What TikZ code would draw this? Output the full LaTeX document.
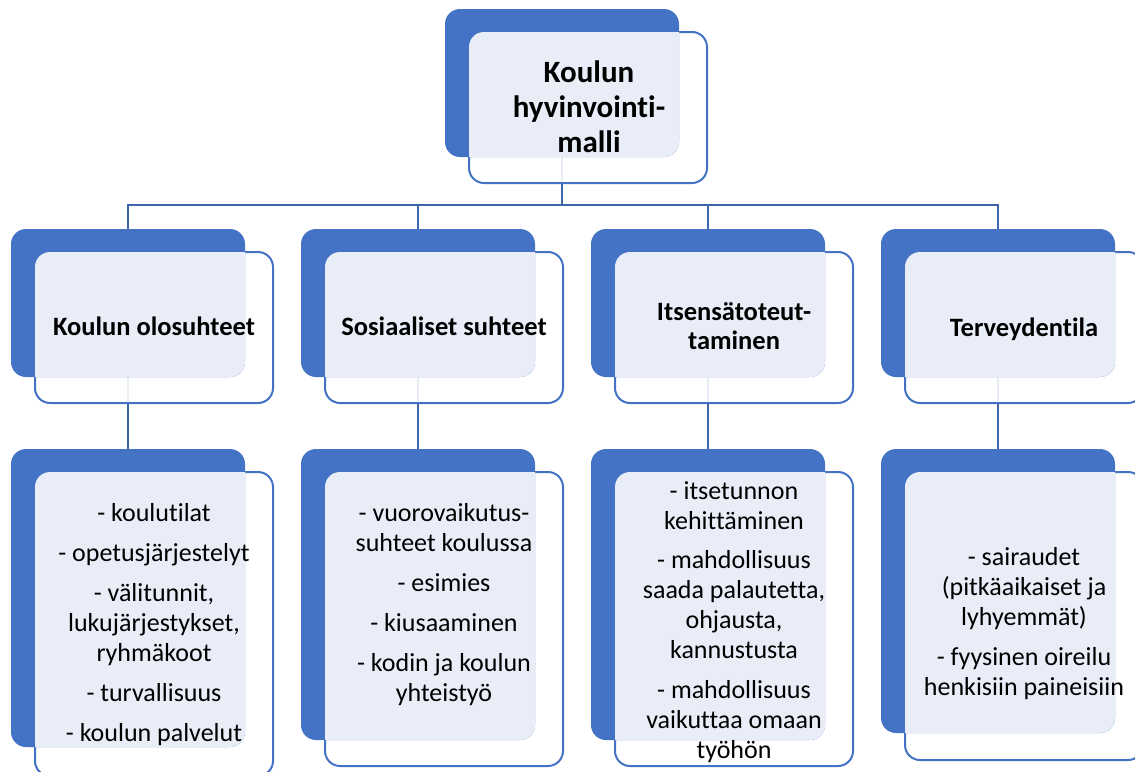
\documentclass[tikz,border=0pt]{standalone}
\usepackage{fontspec}
\setmainfont{Carlito}[Ligatures=NoCommon]
\definecolor{accent}{HTML}{4472C4}
\definecolor{tint}{HTML}{E9EDF7}
\definecolor{linkblue}{HTML}{3D66AD}
\pgfdeclarelayer{background}
\pgfsetlayers{background,main}
\tikzset{
  backbox/.style={fill=accent, rounded corners=15pt, inner sep=0pt, outer sep=0pt,
    anchor=north west, minimum width=234pt},
  frontbox/.style={draw=accent, line width=2pt, fill=white, fill opacity=0.88,
    rounded corners=15pt, inner sep=0pt, outer sep=0pt, anchor=north west,
    minimum width=238pt},
  conn/.style={draw=linkblue, line width=2.5pt},
  title/.style={font=\bfseries\fontsize{31}{35}\selectfont, align=center, inner sep=0pt},
  head/.style={font=\bfseries\fontsize{26.5}{29}\selectfont, align=center, inner sep=0pt},
  item/.style={font=\fontsize{26}{30}\selectfont, align=center, inner sep=0pt, anchor=north},
}
% a filled back card, an outlined front card shifted down-right,
% and the tinted area where the two overlap
% #1 name, #2 x, #3 y (top left of back card), #4 back height, #5 front height
\newcommand\pairbox[5]{%
  \node[frontbox, minimum height=#5pt] (#1f) at (#2+24,#3+23) {};
  \node[backbox, minimum height=#4pt] (#1b) at (#2,#3) {};
  \begin{scope}
    \clip[rounded corners=15pt] (#1b.south west) rectangle (#1b.north east);
    \fill[tint, rounded corners=15pt] (#1f.south west) rectangle (#1f.north east);
  \end{scope}}
\begin{document}
\begin{tikzpicture}[x=1pt,y=-1pt]
\useasboundingbox (0,0) rectangle (1135,771);
\clip (0,0) rectangle (1135,771);

% root
\pairbox{top}{445}{9}{148}{151}
% second level
\pairbox{a1}{11}{229}{148}{151}
\pairbox{a2}{301}{229}{148}{151}
\pairbox{a3}{591}{229}{148}{151}
\pairbox{a4}{881}{229}{148}{151}
% third level
\pairbox{b1}{11}{449}{298}{304}
\pairbox{b2}{301}{449}{291}{294}
\pairbox{b3}{591}{449}{291}{294}
\pairbox{b4}{881}{449}{284}{288}

% connectors
\coordinate (hub) at (0,205);
\begin{pgfonlayer}{background}
  \draw[conn] (topb.south) -- (topb.south |- hub) -| (a1b.north);
  \draw[conn] (topb.south |- hub) -| (a2b.north);
  \draw[conn] (topb.south |- hub) -| (a3b.north);
  \draw[conn] (topb.south |- hub) -| (a4b.north);
  \draw[conn] (a1b.south) -- (b1b.north);
  \draw[conn] (a2b.south) -- (b2b.north);
  \draw[conn] (a3b.south) -- (b3b.north);
  \draw[conn] (a4b.south) -- (b4b.north);
\end{pgfonlayer}

% labels
\node[title] (ttop) at (589,106.5) {Koulun\\hyvinvointi-\\malli};

\node[head] (ta1) at (154,326) {Koulun olosuhteet};
\node[head] (ta2) at (444,326) {Sosiaaliset suhteet};
\node[head] (ta3) at (734,326.5) {Itsensätoteut-\\taminen};
\node[head] (ta4) at (1024,329) {Terveydentila};

\node[item] (tb1) at (154,503) {- koulutilat\\[10pt]- opetusjärjestelyt\\[10pt]- välitunnit,\\lukujärjestykset,\\ryhmäkoot\\[10pt]- turvallisuus\\[10pt]- koulun palvelut};
\node[item] (tb2) at (444,503) {- vuorovaikutus-\\suhteet koulussa\\[10pt]- esimies\\[10pt]- kiusaaminen\\[10pt]- kodin ja koulun\\yhteistyö};
\node[item] (tb3) at (734,481) {- itsetunnon\\kehittäminen\\[9.5pt]- mahdollisuus\\saada palautetta,\\ohjausta,\\kannustusta\\[9.5pt]- mahdollisuus\\vaikuttaa omaan\\työhön};
\node[item] (tb4) at (1024,547) {- sairaudet\\(pitkäaikaiset ja\\lyhyemmät)\\[10pt]- fyysinen oireilu\\henkisiin paineisiin};
\end{tikzpicture}
\end{document}
